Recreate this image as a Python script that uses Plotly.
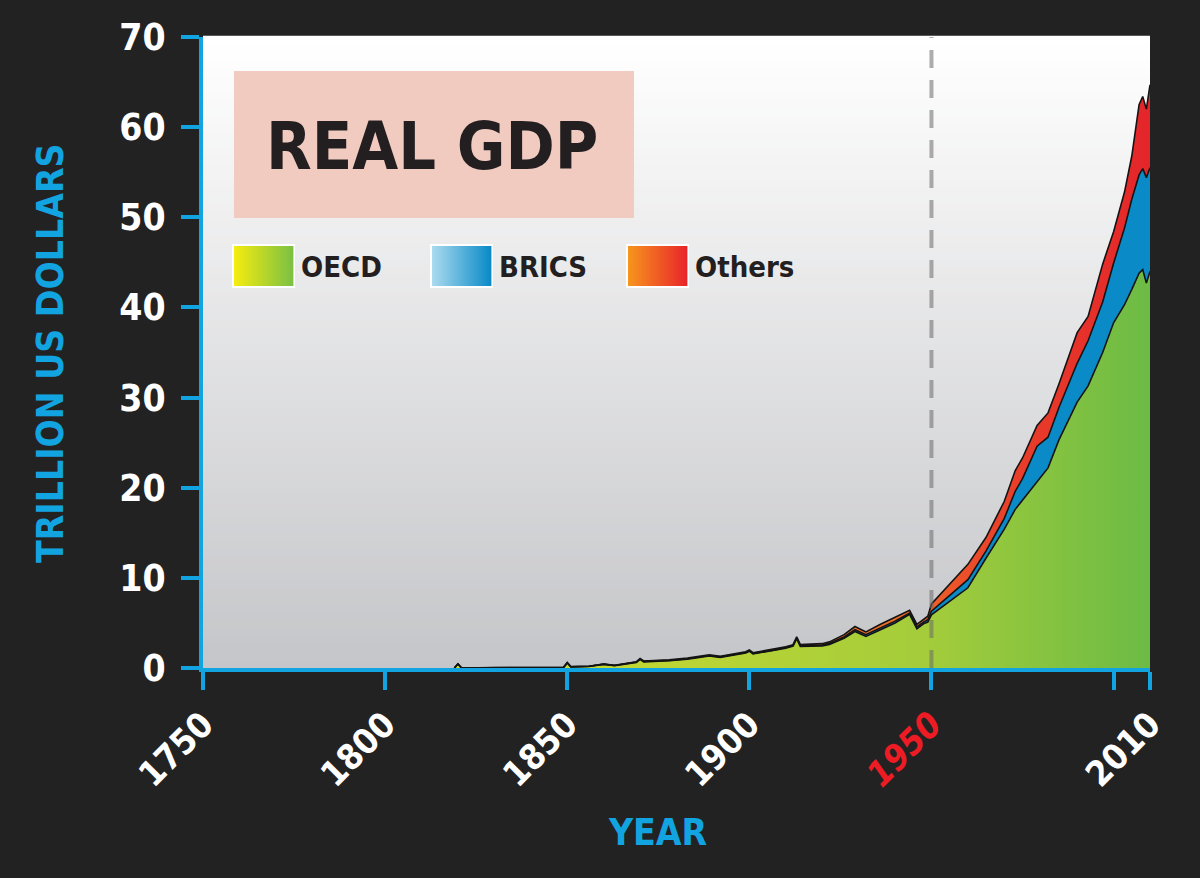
import numpy as np
import plotly.graph_objects as go

# ---------------- data ----------------
years = [1819, 1820, 1821, 1830, 1849, 1850, 1851, 1856, 1860, 1863, 1869, 1870,
         1871, 1878, 1883, 1889, 1892, 1899, 1900, 1901, 1907, 1910, 1912, 1913,
         1914, 1920, 1922, 1926, 1929, 1932, 1936, 1940, 1944, 1946, 1948, 1949,
         1950, 1955, 1960, 1965, 1970, 1973, 1975, 1979, 1982, 1985, 1990, 1993,
         1997, 2000, 2003, 2005, 2007, 2008, 2009, 2010]

oecd = [0.0, 0.45, 0.0, 0.04, 0.06, 0.55, 0.12, 0.18, 0.40, 0.26, 0.62, 0.95,
        0.68, 0.80, 0.98, 1.33, 1.18, 1.66, 1.86, 1.56, 1.95, 2.20, 2.42, 3.25,
        2.40, 2.45, 2.62, 3.30, 4.05, 3.50, 4.25, 5.00, 5.95, 4.35, 4.95, 5.10,
        5.9, 7.4, 8.9, 12.2, 15.4, 17.6, 18.6, 20.7, 22.2, 25.3, 29.5, 31.3,
        35.0, 38.3, 40.3, 42.0, 43.8, 44.2, 42.7, 44.0]

brics = [0.0, 0.0, 0.0, 0.01, 0.01, 0.03, 0.02, 0.01, 0.03, 0.02, 0.04, 0.05,
         0.05, 0.05, 0.05, 0.05, 0.05, 0.06, 0.06, 0.06, 0.06, 0.06, 0.07, 0.08,
         0.08, 0.10, 0.12, 0.15, 0.20, 0.20, 0.20, 0.20, 0.15, 0.20, 0.20, 0.25,
         0.4, 0.7, 0.9, 0.8, 1.2, 2.0, 2.4, 3.9, 3.4, 3.6, 4.3, 5.0,
         5.6, 6.6, 8.5, 10.0, 10.9, 11.2, 11.7, 11.5]

others = [0.0, 0.0, 0.0, 0.0, 0.01, 0.02, 0.01, 0.01, 0.02, 0.02, 0.04, 0.05,
          0.05, 0.05, 0.07, 0.07, 0.07, 0.08, 0.08, 0.08, 0.09, 0.09, 0.10, 0.12,
          0.12, 0.15, 0.16, 0.25, 0.35, 0.30, 0.40, 0.40, 0.30, 0.30, 0.35, 0.40,
          0.8, 1.2, 1.7, 1.5, 1.9, 2.3, 2.3, 2.3, 2.7, 2.6, 3.4, 2.7,
          4.2, 3.5, 4.0, 4.8, 7.8, 8.0, 7.6, 9.2]

series_names = ["OECD", "BRICS", "Others"]
y_tickvals = [0, 10, 20, 30, 40, 50, 60, 70]
x_tickvals = [1750, 1800, 1850, 1900, 1950, 2000, 2010]
x_ticktext = ["1750", "1800", "1850", "1900",
              '<span style="color:#ed1c24"><b><i>1950</i></b></span>', "", "2010"]
title_text = "REAL GDP"
y_title = "TRILLION US DOLLARS"
x_title = "YEAR"
marker_year = 1950

# ---------------- styling ----------------
W, H = 1200, 878
L, R, T, B = 203, 50, 37, 210
PW, PH = W - L - R, H - T - B
BLUE = "#12a4e0"
BG = "#222222"
FONT = "DejaVu Sans Condensed, DejaVu Sans, sans-serif"


def dx(px):
    return (px - L) / PW


def dy(py):
    return (H - B - py) / PH


def mix(c0, c1, f):
    return "rgb(%d,%d,%d)" % tuple(round(a + (b - a) * f) for a, b in zip(c0, c1))


c1 = np.array(oecd)
c2 = c1 + np.array(brics)
c3 = c2 + np.array(others)

fig = go.Figure()
fig.add_trace(go.Scatter(
    x=years, y=c1, name=series_names[0], mode="lines",
    line=dict(color="#141414", width=1.6), fill="tozeroy",
    fillgradient=dict(type="horizontal", start=1820, stop=2010,
                      colorscale=[[0, "#d2dc2f"], [0.684, "#a3cc3b"], [1, "#6cbb45"]])))
fig.add_trace(go.Scatter(
    x=years, y=c2, name=series_names[1], mode="lines",
    line=dict(color="#141414", width=1.6), fill="tonexty", fillcolor="#0a8bc8"))
fig.add_trace(go.Scatter(
    x=years, y=c3, name=series_names[2], mode="lines",
    line=dict(color="#141414", width=1.6), fill="tonexty",
    fillgradient=dict(type="horizontal", start=1940, stop=2010,
                      colorscale=[[0, "#f06e28"], [0.4, "#e9422a"], [1, "#e4252a"]])))

shapes = []
# plot background vertical gradient
n = 80
for i in range(n):
    f = i / (n - 1)
    shapes.append(dict(type="rect", xref="x domain", yref="y domain",
                       x0=0, x1=1, y0=i / n, y1=(i + 1) / n + 0.002,
                       fillcolor=mix((197, 198, 201), (255, 255, 255), f),
                       line=dict(width=0), layer="below"))
# title box
shapes.append(dict(type="rect", xref="x domain", yref="y domain",
                   x0=dx(234), x1=dx(634), y0=dy(218), y1=dy(71),
                   fillcolor="#f2cbc0", line=dict(width=0), layer="below"))
# legend swatches with gradients
swatches = [(234, (245, 236, 16), (124, 193, 66)),
            (432, (170, 218, 238), (10, 139, 200)),
            (628, (247, 148, 29), (232, 38, 42))]
for x0, ca, cb in swatches:
    shapes.append(dict(type="rect", xref="x domain", yref="y domain",
                       x0=dx(x0 - 2), x1=dx(x0 + 61), y0=dy(288), y1=dy(244),
                       fillcolor="white", line=dict(width=0), layer="below"))
    m = 59
    for j in range(m):
        shapes.append(dict(type="rect", xref="x domain", yref="y domain",
                           x0=dx(x0 + 59 * j / m), x1=dx(x0 + 59 * (j + 1) / m + 0.4),
                           y0=dy(286), y1=dy(246),
                           fillcolor=mix(ca, cb, j / (m - 1)),
                           line=dict(width=0), layer="below"))
# dashed 1950 line
shapes.append(dict(type="line", xref="x", yref="y domain", x0=marker_year, x1=marker_year,
                   y0=0, y1=1, line=dict(color="rgba(105,105,105,0.55)", width=4,
                                         dash="18px,12px"), layer="above"))

annotations = [
    dict(text=title_text, xref="x domain", yref="y domain", x=dx(432), y=dy(146),
         xanchor="center", yanchor="middle", showarrow=False,
         font=dict(family=FONT, size=66, color="#231f20", weight="bold")),
    dict(text=y_title, xref="x domain", yref="y domain", x=0, y=dy(353), xshift=-(L - 50),
         textangle=-90, xanchor="center", yanchor="middle", showarrow=False,
         font=dict(family=FONT, size=37, color=BLUE, weight="bold")),
    dict(text=x_title, xref="x domain", yref="y domain", x=dx(657), y=dy(832),
         xanchor="center", yanchor="middle", showarrow=False,
         font=dict(family=FONT, size=37, color=BLUE, weight="bold")),
]
for (x0, _, _), name in zip(swatches, series_names):
    annotations.append(dict(text=name, xref="x domain", yref="y domain",
                            x=dx(x0 + 65), y=dy(267), xanchor="left", yanchor="middle",
                            showarrow=False,
                            font=dict(family=FONT, size=29, color="#231f20", weight="bold")))

fig.update_layout(
    width=W, height=H, margin=dict(l=L, r=R, t=T, b=B),
    paper_bgcolor=BG, plot_bgcolor="#ffffff", showlegend=False,
    shapes=shapes, annotations=annotations,
    xaxis=dict(range=[1750, 2010], tickvals=x_tickvals, ticktext=x_ticktext,
               tickangle=-45, tickfont=dict(family=FONT, size=35, color="white", weight="bold"),
               showline=True, linecolor=BLUE, linewidth=4, ticks="outside", ticklen=18,
               tickwidth=4, tickcolor=BLUE, showgrid=False, zeroline=False),
    yaxis=dict(range=[0, 70], tickvals=y_tickvals,
               tickfont=dict(family=FONT, size=37, color="white", weight="bold"),
               showline=True, linecolor=BLUE, linewidth=4, ticks="outside", ticklen=18,
               tickwidth=4, tickcolor=BLUE, showgrid=False, zeroline=False,
               ticklabelstandoff=8),
)

fig.write_html("out.html", config={"displayModeBar": False},
               post_script="document.body.style.margin='0';document.body.style.overflow='hidden';")
